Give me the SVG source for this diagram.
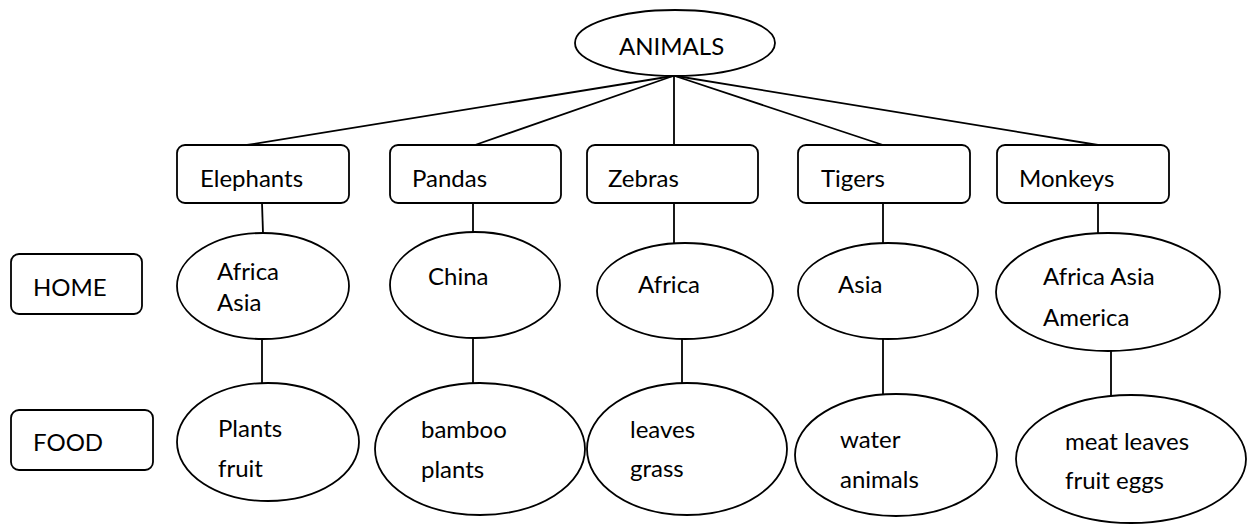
<svg xmlns="http://www.w3.org/2000/svg" width="1247" height="525" viewBox="0 0 1247 525">
<style>
.s{fill:#fff;stroke:#000;stroke-width:1.8}
.c line{stroke:#000;stroke-width:1.8}
text{font-family:Lato,"Open Sans","Liberation Sans",sans-serif;font-size:24px;fill:#000}
</style>
<rect width="1247" height="525" fill="#fff"/>
<g class="c" id="connectors">
<line x1="673" y1="76" x2="247" y2="145"/>
<line x1="673" y1="76" x2="475" y2="145"/>
<line x1="674" y1="76" x2="674" y2="145"/>
<line x1="675" y1="76" x2="883" y2="145"/>
<line x1="676" y1="76" x2="1098" y2="145"/>
<line x1="262" y1="203" x2="263" y2="233"/>
<line x1="473" y1="203" x2="473" y2="232"/>
<line x1="674" y1="203" x2="674" y2="243"/>
<line x1="883" y1="203" x2="883" y2="243"/>
<line x1="1098" y1="203" x2="1098" y2="233"/>
<line x1="262" y1="339" x2="262" y2="383"/>
<line x1="473" y1="338" x2="473" y2="383"/>
<line x1="682" y1="339" x2="682" y2="383"/>
<line x1="883" y1="339" x2="883" y2="394"/>
<line x1="1111" y1="351" x2="1111" y2="395"/>
</g>
<g id="animals"><ellipse class="s" cx="675" cy="43" rx="100" ry="33"/><text x="619" y="55">ANIMALS</text></g>
<g id="elephants"><rect class="s" x="177" y="145" width="172" height="58" rx="8"/><text x="200" y="187">Elephants</text></g>
<g id="pandas"><rect class="s" x="390" y="145" width="171" height="58" rx="8"/><text x="412" y="187">Pandas</text></g>
<g id="zebras"><rect class="s" x="587" y="145" width="171" height="58" rx="8"/><text x="608" y="187">Zebras</text></g>
<g id="tigers"><rect class="s" x="798" y="145" width="172" height="58" rx="8"/><text x="821" y="187">Tigers</text></g>
<g id="monkeys"><rect class="s" x="997" y="145" width="172" height="58" rx="8"/><text x="1019" y="187">Monkeys</text></g>
<g id="home"><rect class="s" x="11" y="254" width="131" height="60" rx="8"/><text x="33" y="296">HOME</text></g>
<g id="food"><rect class="s" x="11" y="410" width="142" height="60" rx="8"/><text x="33" y="451">FOOD</text></g>
<g id="elephants-home"><ellipse class="s" cx="263" cy="286" rx="86" ry="53"/><text x="217" y="280">Africa</text><text x="217" y="311">Asia</text></g>
<g id="pandas-home"><ellipse class="s" cx="475" cy="285" rx="85" ry="53"/><text x="428" y="285">China</text></g>
<g id="zebras-home"><ellipse class="s" cx="685" cy="291" rx="88" ry="48"/><text x="638" y="293">Africa</text></g>
<g id="tigers-home"><ellipse class="s" cx="888" cy="291" rx="90" ry="48"/><text x="838" y="293">Asia</text></g>
<g id="monkeys-home"><ellipse class="s" cx="1108" cy="292" rx="112" ry="59"/><text x="1043" y="285">Africa Asia</text><text x="1043" y="326">America</text></g>
<g id="elephants-food"><ellipse class="s" cx="268" cy="442" rx="91" ry="59"/><text x="218" y="437">Plants</text><text x="218" y="477">fruit</text></g>
<g id="pandas-food"><ellipse class="s" cx="480" cy="449" rx="105" ry="66"/><text x="421" y="438">bamboo</text><text x="421" y="478">plants</text></g>
<g id="zebras-food"><ellipse class="s" cx="687" cy="449" rx="100" ry="66"/><text x="630" y="438">leaves</text><text x="630" y="477">grass</text></g>
<g id="tigers-food"><ellipse class="s" cx="896" cy="455" rx="101" ry="61"/><text x="840" y="448">water</text><text x="840" y="488">animals</text></g>
<g id="monkeys-food"><ellipse class="s" cx="1131" cy="459" rx="115" ry="64"/><text x="1065" y="450">meat leaves</text><text x="1065" y="489">fruit eggs</text></g>
</svg>
